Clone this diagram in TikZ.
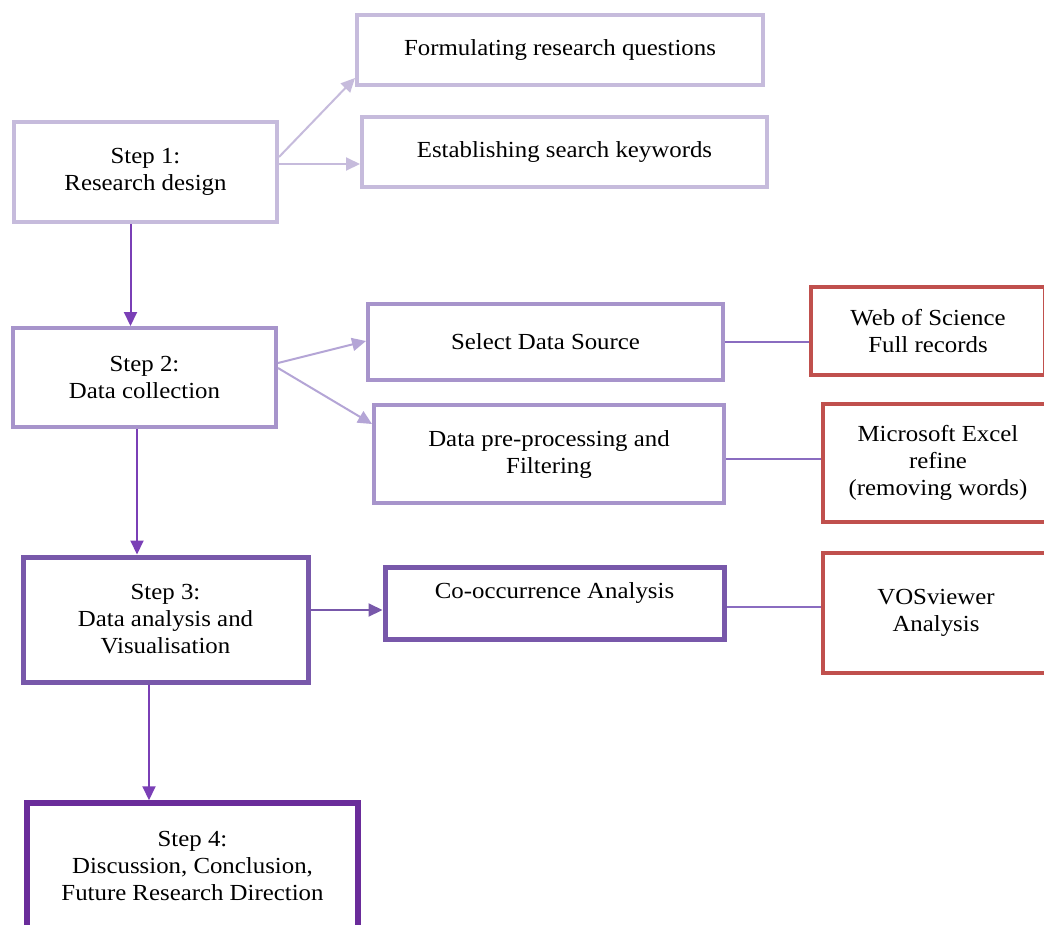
\documentclass[tikz,border=0pt]{standalone}
\usepackage{fontspec}
\setmainfont{Liberation Serif}[FakeStretch=1.08]
\usetikzlibrary{arrows.meta}
\definecolor{lav}{HTML}{C6BBDC}
\definecolor{lavmid}{HTML}{A794CB}
\definecolor{lavarr}{HTML}{B4A5D6}
\definecolor{purp}{HTML}{7A3FB6}
\definecolor{purpbox}{HTML}{7858AA}
\definecolor{purpline}{HTML}{8A6CC0}
\definecolor{darkpurp}{HTML}{6A2C9A}
\definecolor{redbox}{HTML}{C0504D}
\tikzset{
  box/.style={draw, rectangle, inner sep=0pt, align=center, fill=white,
    font=\fontsize{23}{27}\selectfont},
  arr/.style={-{Triangle[length=14pt,width=13pt]}, line width=2pt},
  conn/.style={line width=2pt, draw=purpline},
}
\begin{document}
\begin{tikzpicture}[x=1pt,y=-1pt]
\useasboundingbox (0,0) rectangle (1044,924);
\fill[white] (0,0) rectangle (1044,924);
% boxes
\node[box, draw=lav, line width=4pt, minimum width=263pt, minimum height=100pt] (s1) at (145.5,172) {Step 1:\\Research design};
\node[box, draw=lav, line width=4pt, minimum width=406pt, minimum height=70pt] (form) at (560,50) {Formulating research questions};
\node[box, draw=lav, line width=4pt, minimum width=405pt, minimum height=70pt] (est) at (564.5,152) {Establishing search keywords};
\node[box, draw=lavmid, line width=4pt, minimum width=263pt, minimum height=99pt] (s2) at (144.5,377.5) {Step 2:\\Data collection};
\node[box, draw=lavmid, line width=4pt, minimum width=355pt, minimum height=76pt] (sel) at (545.5,342) {Select Data Source};
\node[box, draw=lavmid, line width=4pt, minimum width=350pt, minimum height=98pt] (pre) at (549,454) {Data pre-processing and\\Filtering};
\node[box, draw=redbox, line width=4.5pt, minimum width=234pt, minimum height=88pt] (wos) at (928,331) {Web of Science\\Full records};
\node[box, draw=redbox, line width=4.5pt, minimum width=230pt, minimum height=118pt] (exc) at (938,463) {Microsoft Excel\\refine\\(removing words)};
\node[box, draw=purpbox, line width=5pt, minimum width=285pt, minimum height=125pt] (s3) at (165.5,619.5) {Step 3:\\Data analysis and\\Visualisation};
\node[box, draw=purpbox, line width=5pt, minimum width=339pt, minimum height=72pt] (co) at (554.5,603) {\raisebox{10pt}[\height][\depth]{Co-occurrence Analysis}};
\node[box, draw=redbox, line width=4.5pt, minimum width=226pt, minimum height=120pt] (vos) at (936,613) {VOSviewer\\Analysis};
\node[box, draw=darkpurp, line width=5.5pt, minimum width=331pt, minimum height=126pt] (s4) at (192.5,866) {Step 4:\\Discussion, Conclusion,\\Future Research Direction};
% connectors
\draw[arr, draw=lav, fill=lav] ([yshift=15pt]s1.east) -- ([yshift=-28pt]form.west);
\coordinate (e1) at ([yshift=-12pt]est.west);
\draw[arr, draw=lav, fill=lav] (s1.east |- e1) -- (e1);
\draw[arr, draw=purp, fill=purp] ([xshift=-15pt]s1.south) -- ([xshift=-15pt]s1.south |- s2.north);
\draw[arr, draw=lavarr, fill=lavarr] ([yshift=14.5pt]s2.east) -- ([yshift=1pt]sel.west);
\draw[arr, draw=lavarr, fill=lavarr] ([yshift=9.5pt]s2.east) -- ([yshift=30pt]pre.west);
\draw[conn] (sel.east) -- (sel.east -| wos.west);
\coordinate (p1) at ([yshift=-5pt]pre.east);
\draw[conn] (p1) -- (p1 -| exc.west);
\draw[arr, draw=purp, fill=purp] ([xshift=-7.5pt]s2.south) -- ([xshift=-7.5pt]s2.south |- s3.north);
\coordinate (c1) at ([yshift=9.5pt]s3.east);
\draw[arr, draw=purpbox, fill=purpbox] (c1) -- (c1 -| co.west);
\coordinate (c2) at ([yshift=-4pt]co.east);
\draw[conn] (c2) -- (c2 -| vos.west);
\draw[arr, draw=purp, fill=purp] ([xshift=-16.5pt]s3.south) -- ([xshift=-16.5pt]s3.south |- s4.north);
\end{tikzpicture}
\end{document}
